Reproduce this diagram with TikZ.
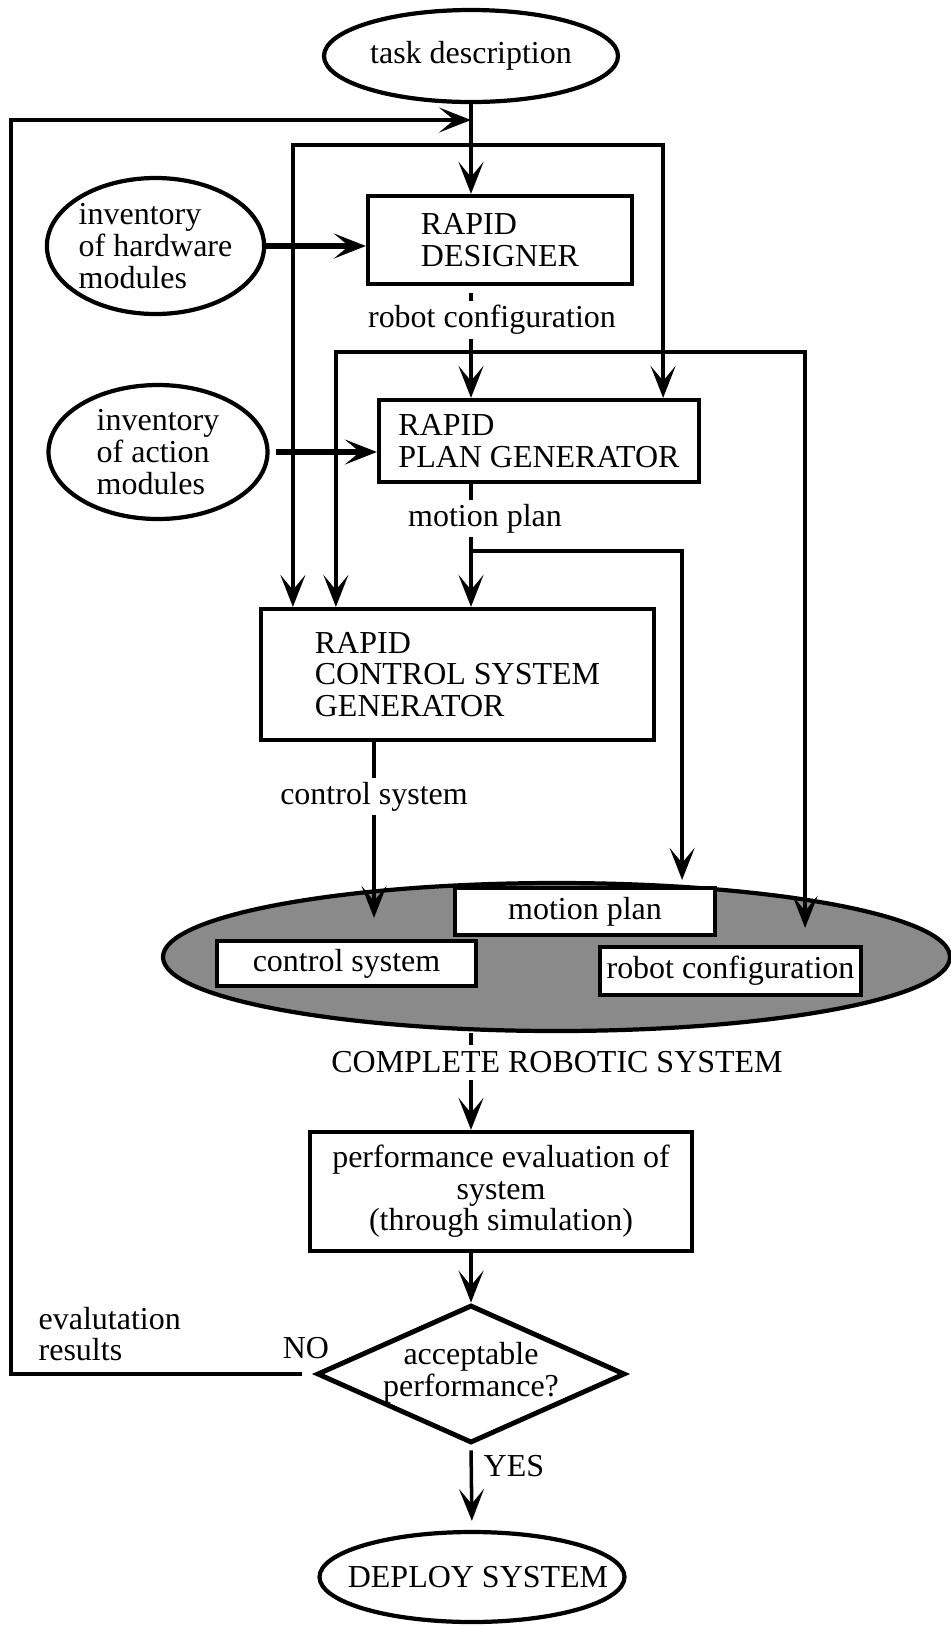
\documentclass[tikz,border=0pt]{standalone}
\usepackage{fontspec}
\setmainfont{Liberation Serif}
\usetikzlibrary{arrows.meta,shapes.geometric}
\newcommand{\diagfont}{\fontsize{9.1pt}{9pt}\selectfont}

\tikzset{
	arr/.style={-{Stealth[length=0.32cm,width=0.25cm,inset=0.15cm]}, line width=1pt},
	thickarr/.style={arr, line width=1.6pt},
	oval/.style={draw, ellipse, line width=1.2pt, inner sep=0pt},
	block/.style={draw, rectangle, line width=1.2pt, inner sep=0pt},
	part/.style={draw, rectangle, fill=white, line width=1.2pt, inner sep=0pt},
	flowlabel/.style={inner xsep=1pt, inner ysep=0.035cm},
}

\begin{document}
\begin{tikzpicture}[every node/.style={font=\diagfont}]
			%%%%% START %%%%%
			\useasboundingbox (0,0) rectangle (9.51,-16.27);
			
			\node[oval, minimum width=2.94cm, minimum height=0.92cm] (task) at (4.71,-0.56) {task description};
			
			\node[oval, align=left, minimum width=2.17cm, minimum height=1.36cm] (hw) at (1.555,-2.46) {inventory\\of hardware\\modules};
			\node[oval, align=left, minimum width=2.19cm, minimum height=1.34cm] (ac) at (1.58,-4.52) {inventory\\of action\\modules};
			
			\node[block, align=left, minimum width=2.64cm, minimum height=0.88cm] (designer) at (5.00,-2.40) {RAPID\\DESIGNER};
			\node[block, align=left, minimum width=3.20cm, minimum height=0.82cm] (plangen) at (5.39,-4.41) {RAPID\\PLAN GENERATOR};
			\node[block, align=left, minimum width=3.93cm, minimum height=1.31cm] (csg) at (4.575,-6.745) {RAPID\\CONTROL SYSTEM\\GENERATOR};
			
			\node[flowlabel] (rclabel) at (4.92,-3.20) {robot configuration};
			\node[flowlabel] (mplabel) at (4.85,-5.185) {motion plan};
			\node[flowlabel] (cslabel) at (3.74,-7.965) {control system};
			
			% complete robotic system
			\node[draw, ellipse, line width=1.2pt, fill=black!46, minimum width=7.87cm, minimum height=1.48cm] (sys) at (5.565,-9.57) {};
			\node[part, minimum width=2.60cm, minimum height=0.47cm] (mp) at (5.85,-9.115) {motion plan};
			\node[part, minimum width=2.59cm, minimum height=0.45cm] (cs) at (3.465,-9.635) {control system};
			\node[part, minimum width=2.61cm, minimum height=0.48cm] (rc) at (7.305,-9.71) {robot configuration};
			\node[inner xsep=1pt, inner ysep=0.06cm] (crslabel) at (5.57,-10.625) {COMPLETE ROBOTIC SYSTEM};
			
			\node[block, align=center, minimum width=3.82cm, minimum height=1.19cm] (perf) at (5.01,-11.915) {performance evaluation of\\system\\(through simulation)};
			
			\node[draw, diamond, line width=1.4pt, inner sep=0pt, aspect=2.23, minimum width=3.08cm, minimum height=1.38cm] (dec) at (4.71,-13.74) {\makebox[1cm]{\begin{tabular}{@{}c@{}}acceptable\\performance?\end{tabular}}};
			\node (no) at (3.06,-13.48) {NO};
			\node[anchor=west, align=left, inner sep=0pt] (evres) at (0.38,-13.34) {evalutation\\results};
			
			\node[oval, minimum width=3.05cm, minimum height=0.90cm] (deploy) at (4.72,-15.77) {\makebox[2cm]{\hspace{0.12cm}DEPLOY SYSTEM}};
			\node[anchor=west, inner sep=0pt] (yes) at (4.83,-14.66) {YES};
			
			% task description to the three generators
			\draw[arr] (task.south) -- (task.south |- designer.north);
			\coordinate (taskfork) at (4.71,-1.45);
			\draw[arr] (taskfork) -| ([xshift=0.34cm]csg.north west);
			\draw[arr] (taskfork) -| ([xshift=-0.38cm]plangen.north east);
			
			\draw[thickarr] (hw.east) -- (hw.east -| designer.west);
			\draw[thickarr, shorten <=0.06cm] (ac.east) -- (ac.east -| plangen.west);
			
			% robot configuration
			\draw[line width=1pt, shorten <=0.07cm] (task.south |- designer.south) -- (task.south |- rclabel.north);
			\draw[arr] (task.south |- rclabel.south) -- (task.south |- plangen.north);
			\coordinate (rcfork) at (4.71,-3.52);
			\draw[arr] (rcfork) -| ([xshift=0.77cm]csg.north west);
			\draw[arr] (rcfork) -| ([xshift=-0.58cm,yshift=0.17cm]rc.north east);
			
			% motion plan
			\draw[line width=1pt] (task.south |- plangen.south) -- (task.south |- mplabel.north);
			\draw[arr] (task.south |- mplabel.south) -- (task.south |- csg.north);
			\coordinate (mpfork) at (4.71,-5.51);
			\draw[arr] (mpfork) -| ([xshift=-0.35cm,yshift=0.06cm]mp.north east);
			
			% control system
			\draw[line width=1pt] (csg.south -| cslabel) -- (cslabel.north);
			\draw[arr] (cslabel.south) -- ([yshift=0.21cm]cs.north -| cslabel);
			
			% evaluation
			\draw[line width=1pt] (sys.south -| task.south) -- (task.south |- crslabel.north);
			\draw[arr] (task.south |- crslabel.south) -- (task.south |- perf.north);
			\draw[arr] (task.south |- perf.south) -- (dec.north);
			\draw[arr, shorten <=0.05cm, shorten >=0.09cm] (dec.south) -- (deploy.north);
			
			% evaluation results back to the top
			\coordinate (fbcorner) at (0.11,-1.20);
			\draw[arr, shorten <=0.13cm] (dec.west) -| (fbcorner) -- (fbcorner -| task.south);
			
			%%%%% END %%%%%
\end{tikzpicture}
\end{document}
